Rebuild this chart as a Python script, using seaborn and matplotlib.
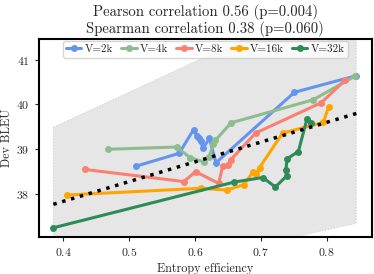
import numpy as np
import pandas as pd
import seaborn as sns
import matplotlib.pyplot as plt

# values
v2k_x = [0.510, 0.576, 0.598, 0.603, 0.606, 0.609, 0.612, 0.622, 0.632, 0.751, 0.845]
v2k_y = [38.62, 38.91, 39.44, 39.29, 39.24, 39.18, 39.02, 39.24, 38.70, 40.27, 40.64]

v4k_x = [0.468, 0.572, 0.593, 0.613, 0.621, 0.628, 0.631, 0.655, 0.779, 0.843]
v4k_y = [39.00, 39.05, 38.81, 38.72, 38.82, 39.11, 39.20, 39.59, 40.10, 40.63]

v8k_x = [0.433, 0.583, 0.601, 0.636, 0.642, 0.650, 0.654, 0.692, 0.792, 0.828]
v8k_y = [38.55, 38.28, 38.50, 38.24, 38.62, 38.65, 38.76, 39.36, 40.04, 40.54]

v16k_x = [0.405, 0.609, 0.648, 0.674, 0.688, 0.693, 0.698, 0.733, 0.795, 0.803]
v16k_y = [37.98, 38.13, 38.09, 38.21, 38.49, 38.44, 38.59, 39.36, 39.60, 39.95]

v32k_x = [0.385, 0.660, 0.703, 0.722, 0.739, 0.738, 0.740, 0.757, 0.770, 0.776]
v32k_y = [37.25, 38.27, 38.37, 38.16, 38.40, 38.54, 38.79, 38.95, 39.67, 39.59]

series_names = ['V=2k', 'V=4k', 'V=8k', 'V=16k', 'V=32k']
series_x = [v2k_x, v4k_x, v8k_x, v16k_x, v32k_x]
series_y = [v2k_y, v4k_y, v8k_y, v16k_y, v32k_y]
colors = ['#6495ED', '#8FBC8F', '#FA8072', '#FFA500', '#2E8B57']

# shaded band (edges)
band_x = [0.385, 0.845]
band_lo = [35.85, 37.35]
band_hi = [39.49, 42.62]

title = "Pearson correlation 0.56 (p=0.004)\nSpearman correlation 0.38 (p=0.060)"

rows = []
for name, xs, ys in zip(series_names, series_x, series_y):
    for i, (a, b) in enumerate(zip(xs, ys)):
        rows.append({'V': name, 'step': i, 'eff': a, 'bleu': b})
df = pd.DataFrame(rows)

sns.set_style('ticks')
plt.rcParams['font.family'] = ['cmr10', 'DejaVu Serif']
plt.rcParams['mathtext.fontset'] = 'cm'
plt.rcParams['axes.formatter.use_mathtext'] = True

fig = plt.figure(figsize=(3.74, 2.74), dpi=100)
ax = fig.add_axes([0.103, 0.136, 0.892, 0.722])

# 회색 밴드
ax.fill_between(band_x, band_lo, band_hi, facecolor='0.9', edgecolor='0.82',
                linestyle=':', linewidth=0.8, zorder=0)

sns.lineplot(data=df, x='eff', y='bleu', hue='V', palette=dict(zip(series_names, colors)),
             sort=False, estimator=None, marker='o', markersize=5, markeredgewidth=0,
             linewidth=2.2, ax=ax, zorder=2)

# 전체 점에 대한 추세선
sns.regplot(data=df, x='eff', y='bleu', scatter=False, ci=None, truncate=True, ax=ax,
            line_kws={'color': 'black', 'linestyle': ':', 'linewidth': 2.5, 'zorder': 3})

ax.set_xlim(0.3625, 0.869)
ax.set_ylim(37.05, 41.46)
ax.set_xticks([0.4, 0.5, 0.6, 0.7, 0.8])
ax.set_yticks([38, 39, 40, 41])
ax.tick_params(labelsize=8.5, length=3, width=0.8)
ax.set_xlabel('Entropy efficiency', fontsize=8.7)
ax.set_ylabel('Dev BLEU', fontsize=8.7, labelpad=2)
ax.set_title(title, fontsize=10.6, linespacing=1.1, pad=4)
for sp in ax.spines.values():
    sp.set_linewidth(1.5)
    sp.set_color('black')

ax.legend(loc='upper center', ncol=5, fontsize=8, handlelength=1.4, handletextpad=0.3,
          columnspacing=0.7, borderpad=0.3, borderaxespad=0.2, frameon=True)

fig.savefig('out.png', dpi=100)
